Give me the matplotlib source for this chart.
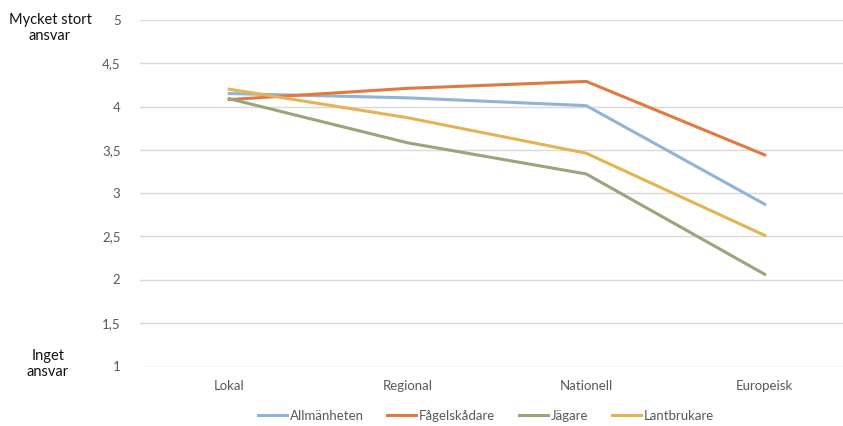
import matplotlib.pyplot as plt
from matplotlib.ticker import FuncFormatter

plt.rcParams["font.family"] = ["Lato", "DejaVu Sans"]

categories = ["Lokal", "Regional", "Nationell", "Europeisk"]
allmanheten = [4.15, 4.10, 4.01, 2.87]
fagelskadare = [4.08, 4.21, 4.29, 3.44]
jagare = [4.09, 3.58, 3.22, 2.06]
lantbrukare = [4.20, 3.87, 3.46, 2.51]

series = [
    ("Allmänheten", allmanheten, "#91B3D7"),
    ("Fågelskådare", fagelskadare, "#E07A3F"),
    ("Jägare", jagare, "#9CA47A"),
    ("Lantbrukare", lantbrukare, "#E4B353"),
]

fig = plt.figure(figsize=(8.43, 4.26), dpi=100)
ax = fig.add_axes([140 / 843, 1 - 366 / 426, 714 / 843, 346 / 426])

x = range(len(categories))
for name, vals, col in series:
    ax.plot(x, vals, color=col, lw=2.2, label=name, solid_joinstyle="round")

ax.set_xlim(-0.5, 3.5)
ax.set_ylim(1, 5)
ax.set_yticks([1, 1.5, 2, 2.5, 3, 3.5, 4, 4.5, 5])
ax.yaxis.set_major_formatter(FuncFormatter(lambda v, p: f"{v:g}".replace(".", ",")))
ax.set_xticks(list(x))
ax.set_xticklabels(categories)
ax.grid(axis="y", color="#D9D9D9", lw=1)
ax.set_axisbelow(True)
for s in ax.spines.values():
    s.set_visible(False)
ax.tick_params(length=0, colors="#595959", labelsize=9.5)
ax.tick_params(axis="y", pad=14)
ax.tick_params(axis="x", pad=10)

fig.text(50 / 843, 1 - 28 / 426, "Mycket stort\nansvar", ha="center", va="center",
         fontsize=10.5, linespacing=1.15, color="#111111")
fig.text(48 / 843, 1 - 364 / 426, "Inget\nansvar", ha="center", va="center",
         fontsize=10.5, linespacing=1.15, color="#111111")

fig.legend(loc="center", bbox_to_anchor=(486 / 843, 1 - 416 / 426), ncol=4,
           frameon=False, fontsize=9.5, labelcolor="#595959", handlelength=2.2,
           handletextpad=0.2, columnspacing=1.8)

fig.savefig("out.png", dpi=100)
